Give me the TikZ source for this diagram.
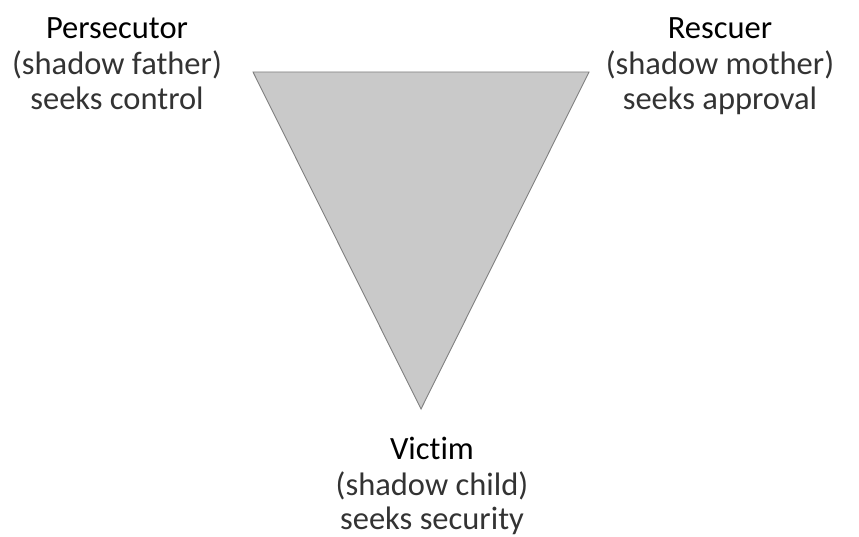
\documentclass[tikz,border=0pt]{standalone}
\usepackage{fontspec}
\setmainfont[Ligatures=NoCommon]{Carlito}
\begin{document}
\begin{tikzpicture}[x=1pt,y=-1pt,
  ttl/.style={inner sep=0pt,anchor=base,font=\fontsize{32.5}{36}\selectfont},
  sub/.style={inner sep=0pt,anchor=base,font=\fontsize{32.5}{36}\selectfont,text=black!80},
  tri/.style={draw=black!50,fill=black!21,line width=0.9pt,line join=miter}]
\useasboundingbox (0,0) rectangle (859,537);
\coordinate (tl) at (253,72);
\coordinate (tr) at (589,72);
\coordinate (tb) at (421,409);
\draw[tri] (tl) -- (tr) -- (tb) -- cycle;
\node[ttl] (p1) at (117,39) {Persecutor};
\node[sub] (p2) at (117,75) {(shadow father)};
\node[sub] (p3) at (117,110) {seeks control};
\node[ttl] (r1) at (720,39) {Rescuer};
\node[sub] (r2) at (720,75) {(shadow mother)};
\node[sub] (r3) at (720,110) {seeks approval};
\node[ttl] (v1) at (432,459) {Victim};
\node[sub] (v2) at (432,495) {(shadow child)};
\node[sub] (v3) at (432,529) {seeks security};
\end{tikzpicture}
\end{document}
